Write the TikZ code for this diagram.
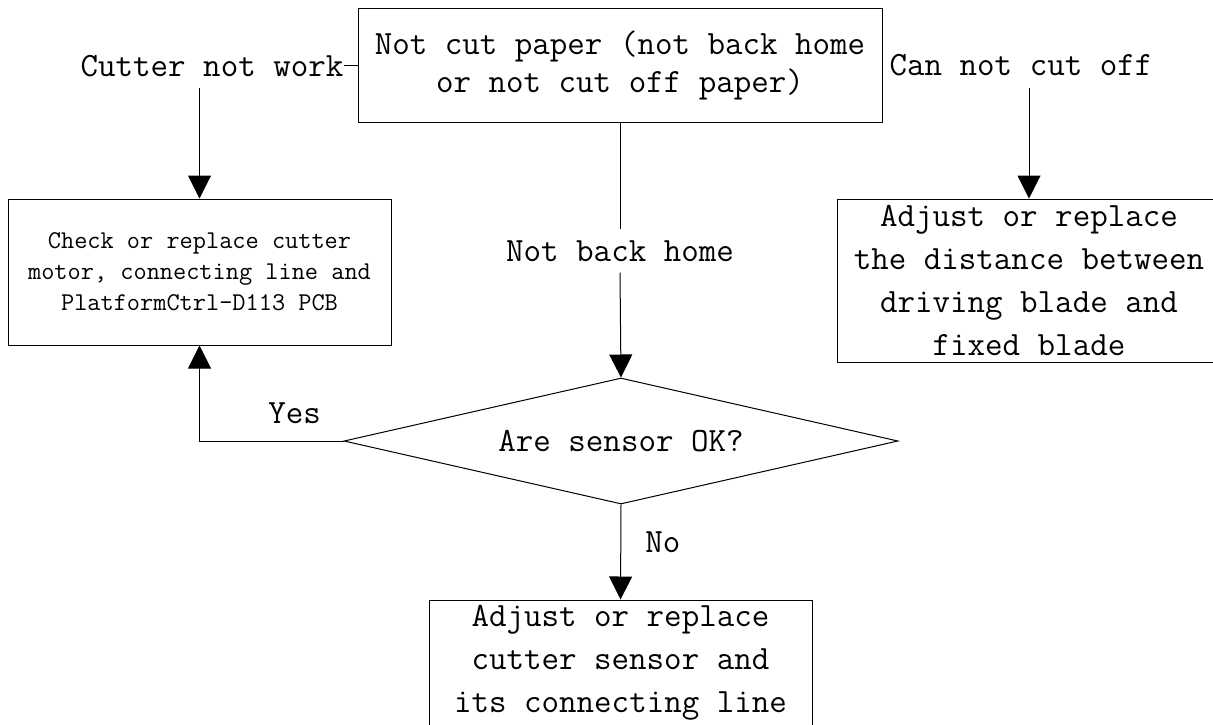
\documentclass[tikz,border=0pt]{standalone}
\usepackage{fontspec}
\usepackage{tikz}
\usetikzlibrary{arrows.meta, positioning, shapes.geometric}

\begin{document}
\begin{tikzpicture}[x=1pt, y=-1pt, line width=1pt, >={Triangle[length=23pt, width=23pt]},
    txt/.style={font=\ttfamily\fontsize{34}{43}\selectfont, align=center, inner sep=0pt},
    box/.style={draw, txt},
    smallbox/.style={draw, align=center, inner sep=0pt, font=\ttfamily\fontsize{25.6}{31}\selectfont}]
    \path[use as bounding box, clip] (0,0) rectangle (1213,724);

    \node[box, minimum width=524pt, minimum height=114pt, font=\ttfamily\fontsize{34}{38}\selectfont] (top) at (620,65)
        {Not cut paper (not back home\\or not cut off paper)};
    \node[txt, anchor=base] (cutter) at (212,76) {Cutter not work};
    \node[txt, anchor=base] (cutoff) at (1021,75) {Can not cut off};
    \node[txt, anchor=base, inner ysep=11pt] (home) at (620,261) {Not back home};

    \node[smallbox, minimum width=383pt, minimum height=146pt] (check) at (199.5,272)
        {Check or replace cutter\\motor, connecting line and\\PlatformCtrl-D113 PCB};
    \node[box, minimum width=384pt, minimum height=163pt] (blade) at (1029,280.5)
        {Adjust or replace\\the distance between\\driving blade and\\fixed blade};
    \node[draw, diamond, txt, aspect=4.4, minimum width=554pt, minimum height=126pt] (sensor) at (621,441)
        {Are sensor OK?};
    \node[box, minimum width=383pt, minimum height=126pt] (fix) at (620.5,663)
        {Adjust or replace\\cutter sensor and\\its connecting line};

    \coordinate (c1) at (199.5,88);
    \coordinate (c2) at (1029,88);

    \draw (cutter.east) -- (cutter.east -| top.west);
    \draw[->] (c1) -- (check.north);
    \draw[->] (c2) -- (blade.north);
    \draw (top.south) -- (home.north);
    \draw[->] (home.south) -- (sensor.north);
    \draw[->] (sensor.west) -| (check.south) node[txt, pos=0.17, above=17pt] (yes) {Yes};
    \draw[->] (sensor.south) -- (fix.north) node[txt, pos=0.4, right=24pt] (no) {No};
\end{tikzpicture}
\end{document}
